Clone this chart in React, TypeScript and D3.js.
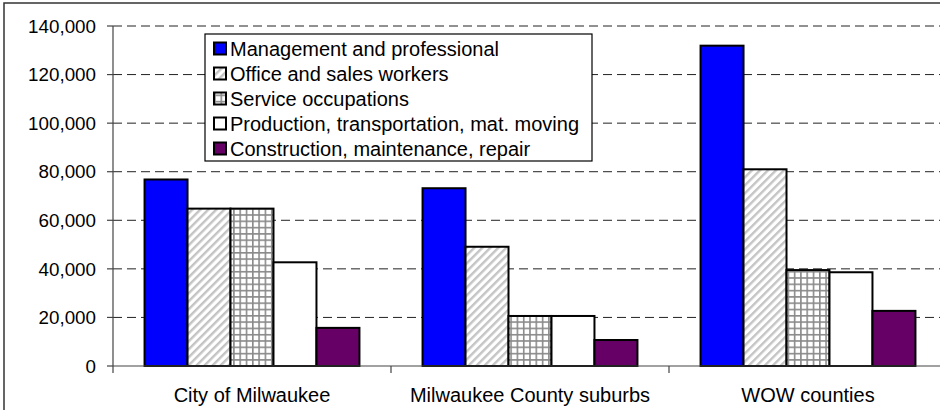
import React from "react";
import * as d3 from "d3";

const categories = ["City of Milwaukee", "Milwaukee County suburbs", "WOW counties"];
const seriesNames = [
  "Management and professional",
  "Office and sales workers",
  "Service occupations",
  "Production, transportation, mat. moving",
  "Construction, maintenance, repair",
];
const management = [76800, 73200, 131900];
const officeSales = [64800, 49100, 81000];
const service = [64800, 20600, 39500];
const production = [42700, 20600, 38600];
const construction = [15700, 10700, 22700];
const yTicks = [0, 20000, 40000, 60000, 80000, 100000, 120000, 140000];

const seriesValues = [management, officeSales, service, production, construction];
const fills = ["#0000FF", "url(#stripes)", "url(#grid)", "#FFFFFF", "#660066"];

export default function App() {
  const W = 940;
  const H = 410;
  const left = 113;
  const right = 947;
  const top = 26;
  const bottom = 366;
  const font = "'Liberation Sans', Arial, sans-serif";

  const y = d3.scaleLinear().domain([0, 140000]).range([bottom, top]);
  const x0 = d3.scaleBand<string>().domain(categories).range([left, right]).padding(0);
  const bw = x0.bandwidth();
  const groupW = bw * 0.773;
  const x1 = d3
    .scaleBand<string>()
    .domain(seriesNames)
    .range([(bw - groupW) / 2, (bw + groupW) / 2])
    .padding(0);
  const fmt = d3.format(",");

  const legendX = 205;
  const legendY = 34;
  const rowH = 25;

  return (
    <svg
      width={W}
      height={H}
      style={{ position: "absolute", left: 0, top: 0, background: "#fff" }}
      fontFamily={font}
    >
      <defs>
        <pattern
          id="stripes"
          width={5.66}
          height={5.66}
          patternUnits="userSpaceOnUse"
          patternTransform="rotate(45)"
        >
          <rect width={5.66} height={5.66} fill="#fff" />
          <rect x={0} y={0} width={2.4} height={5.66} fill="#c4c4c4" />
        </pattern>
        <pattern id="grid" width={6.3} height={6.3} patternUnits="userSpaceOnUse">
          <rect width={6.3} height={6.3} fill="#fff" />
          <rect x={0} y={0} width={1.6} height={6.3} fill="#8a8a8a" />
          <rect x={0} y={0} width={6.3} height={1.6} fill="#8a8a8a" />
        </pattern>
      </defs>
      <rect x={0} y={0} width={W} height={H} fill="#fff" />
      {/* outer chart border */}
      <rect x={4} y={3} width={W + 10} height={H + 10} fill="none" stroke="#333" strokeWidth={1.5} />

      {/* gridlines */}
      {yTicks
        .filter((t) => t > 0)
        .map((t) => (
          <line
            key={"g" + t}
            x1={left}
            x2={right}
            y1={y(t)}
            y2={y(t)}
            stroke="#222"
            strokeWidth={1}
            strokeDasharray="9,5"
          />
        ))}

      {/* bars */}
      {categories.map((c, ci) =>
        seriesNames.map((s, si) => {
          const v = seriesValues[si][ci];
          const bx = (x0(c) as number) + (x1(s) as number);
          return (
            <rect
              key={c + s}
              x={bx}
              y={y(v)}
              width={x1.bandwidth()}
              height={y(0) - y(v)}
              fill={fills[si]}
              stroke="#000"
              strokeWidth={2}
            />
          );
        })
      )}

      {/* y axis */}
      <line x1={left} x2={left} y1={top} y2={bottom} stroke="#444" strokeWidth={1.2} />
      {yTicks.map((t) => (
        <g key={"t" + t}>
          <line x1={left - 6} x2={left} y1={y(t)} y2={y(t)} stroke="#444" strokeWidth={1.2} />
          <text
            x={96}
            y={y(t)}
            dy="0.36em"
            textAnchor="end"
            fontSize={18.8}
            fill="#000"
          >
            {fmt(t)}
          </text>
        </g>
      ))}

      {/* x axis */}
      <line x1={left} x2={right} y1={bottom} y2={bottom} stroke="#444" strokeWidth={1.2} />
      {[...categories.map((c) => x0(c) as number), right].map((xx, i) => (
        <line key={"xt" + i} x1={xx} x2={xx} y1={bottom} y2={bottom + 7} stroke="#444" strokeWidth={1.2} />
      ))}
      {categories.map((c) => (
        <text
          key={"cl" + c}
          x={(x0(c) as number) + bw / 2}
          y={401.5}
          textAnchor="middle"
          fontSize={20}
          fill="#000"
        >
          {c}
        </text>
      ))}

      {/* legend */}
      <rect
        x={legendX}
        y={legendY}
        width={387}
        height={127}
        fill="#fff"
        stroke="#000"
        strokeWidth={1.2}
      />
      {seriesNames.map((s, i) => (
        <g key={"lg" + s}>
          <rect
            x={legendX + 9}
            y={legendY + 8.5 + i * rowH}
            width={12}
            height={12}
            fill={fills[i]}
            stroke="#000"
            strokeWidth={2}
          />
          <text x={legendX + 25} y={legendY + 21.5 + i * rowH} fontSize={20} fill="#000">
            {s}
          </text>
        </g>
      ))}
    </svg>
  );
}
